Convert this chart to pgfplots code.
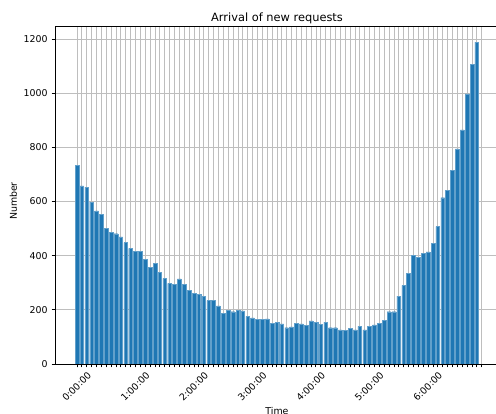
\documentclass[border=0pt]{standalone}
\usepackage{pgfplots}
\pgfplotsset{compat=1.18}
\usepackage{pgfplotstable}
\usepackage{fontspec}
\setmainfont{DejaVu Sans}

\definecolor{barblue}{HTML}{1F77B4}
\definecolor{gridgray}{HTML}{BEBEBE}

% Requests per 5-minute slot (slot index, count)
\pgfplotstableread{
slot count
0 733
1 658
2 653
3 598
4 565
5 553
6 500
7 487
8 481
9 469
10 448
11 427
12 417
13 417
14 386
15 358
16 372
17 339
18 316
19 298
20 294
21 314
22 294
23 271
24 261
25 258
26 251
27 234
28 234
29 215
30 188
31 198
32 193
33 199
34 196
35 176
36 170
37 165
38 165
39 167
40 149
41 155
42 148
43 134
44 137
45 151
46 148
47 143
48 159
49 155
50 147
51 155
52 134
53 134
54 126
55 123
56 131
57 126
58 139
59 126
60 139
61 144
62 151
63 162
64 193
65 193
66 251
67 290
68 334
69 402
70 395
71 409
72 414
73 446
74 507
75 614
76 642
77 715
78 794
79 864
80 997
81 1106
82 1188
}\requests

\begin{document}
\begin{tikzpicture}
\begin{axis}[
  name=ax,
  scale only axis,
  width=444pt, height=338pt,
  xmin=-4.5, xmax=86.55,
  ymin=0, ymax=1248,
  ybar, bar width=0.76, bar shift=0pt,
  axis line style={black, line width=0.8pt},
  tick align=outside,
  major tick length=3.4pt, minor tick length=3.4pt,
  tick style={black, line width=0.8pt},
  xtick={0,12,...,72},
  xticklabels={0:00:00,1:00:00,2:00:00,3:00:00,4:00:00,5:00:00,6:00:00},
  minor xtick={0,...,83},
  ytick={0,200,...,1200},
  xtick pos=bottom, ytick pos=left,
  xmajorgrids, xminorgrids, ymajorgrids,
  major grid style={gridgray, line width=0.7pt},
  minor grid style={gridgray, line width=0.7pt},
  /pgf/number format/assume math mode=true,
  /pgf/number format/1000 sep={},
  ticklabel style={font=\fontsize{9.4}{11}\selectfont, black},
  yticklabel style={xshift=-0.5pt},
  xticklabel style={xshift=10pt, yshift=-3.5pt, rotate=45, anchor=north east, inner sep=0pt},
  title={Arrival of new requests},
  title style={font=\fontsize{11.4}{13}\selectfont, at={(axis description cs:0.5,1)}, anchor=base, inner sep=0pt, yshift=-2pt},
  xlabel={Time},
  xlabel style={font=\fontsize{9.4}{11}\selectfont, at={(axis description cs:0.5,0)}, anchor=north, inner sep=0pt, yshift=-43pt},
  ylabel={Number},
  ylabel style={font=\fontsize{9.4}{11}\selectfont, at={(axis description cs:-0.0935,0.482)}, anchor=center},
]
\addplot[fill=barblue, draw=barblue!70!white, line width=0.4pt] table[x=slot, y=count] {\requests};
\end{axis}
\pgfresetboundingbox
\path[use as bounding box] ([xshift=-55pt,yshift=-50pt]ax.south west) rectangle ([xshift=441pt,yshift=26pt]ax.north west);
\end{tikzpicture}
\end{document}
